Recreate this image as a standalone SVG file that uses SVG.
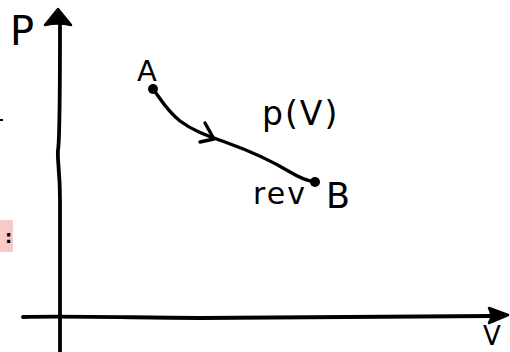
<svg xmlns="http://www.w3.org/2000/svg" width="510" height="352" viewBox="0 0 510 352">
<style>
.ax{fill:none;stroke:#000;stroke-width:3.8;stroke-linecap:round;stroke-linejoin:round}
.cv{fill:none;stroke:#000;stroke-width:3.4;stroke-linecap:round;stroke-linejoin:round}
.t{font-family:"DejaVu Sans","Liberation Sans",sans-serif;fill:#000}
</style>
<rect width="510" height="352" fill="#fff"/>
<g id="axes">
<path class="ax" d="M60,22 C60,80 60,140 58,150 C57,160 60,170 60,200 L60,352"/>
<path d="M45,25 L58,9 L71,25 C62,23 54,23 45,25 Z" fill="#000" stroke="#000" stroke-width="2.5" stroke-linejoin="round"/>
<path class="ax" d="M23,317 C60,316 100,317 200,318 L492,316"/>
<path d="M489,308 L508,315 L489,323 C492,318 492,313 489,308 Z" fill="#000" stroke="#000" stroke-width="2.5" stroke-linejoin="round"/>
</g>
<g id="label-P"><text class="t" x="10" y="45" font-size="40">P</text></g>
<g id="label-V"><text class="t" x="483" y="345" font-size="26">V</text></g>
<g id="edge-mark"><path d="M0,120 L3,120" stroke="#000" stroke-width="2"/></g>
<g id="note">
<rect x="0" y="220" width="13" height="32" fill="#f7c9c9"/>
<text class="t" x="5" y="243" font-size="18" font-weight="bold">:</text>
</g>
<g id="point-A">
<circle cx="153" cy="89" r="5" fill="#000"/>
<text class="t" x="137" y="81" font-size="29">A</text>
</g>
<g id="point-B">
<circle cx="315" cy="182" r="5" fill="#000"/>
<text class="t" x="326" y="208" font-size="35">B</text>
</g>
<g id="connectors">
<path class="cv" d="M153,89 C160,98 166,110 180,121 C192,130 205,135 225,142 C250,151 272,161 290,172 C300,178 308,181 315,182"/>
<path class="cv" d="M205,123 L214,139 L200,142"/>
</g>
<g id="label-pV"><text class="t" x="262" y="125" font-size="33" letter-spacing="2">p(V)</text></g>
<g id="label-rev"><text class="t" x="253" y="204" font-size="30" letter-spacing="2">rev</text></g>
</svg>
